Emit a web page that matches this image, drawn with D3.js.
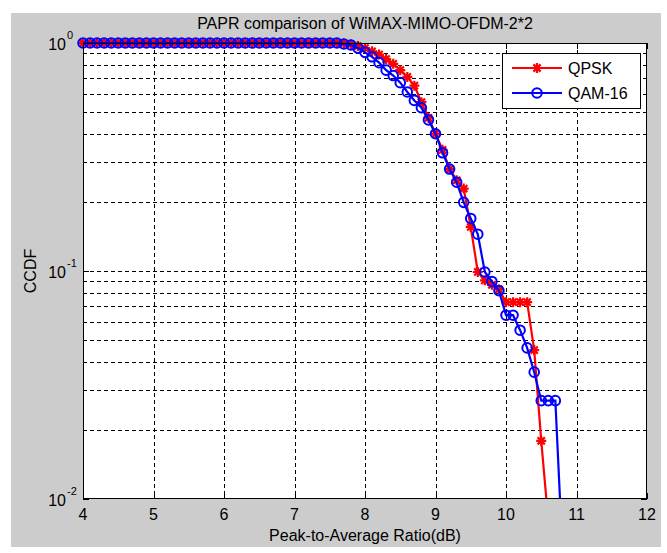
<!DOCTYPE html>
<html>
<head>
<meta charset="utf-8">
<script src="https://cdn.jsdelivr.net/npm/d3@7"></script>
<style>
  body { margin: 0; background: #fff; }
  svg { display: block; font-family: "Liberation Sans", Arial, sans-serif; }
</style>
</head>
<body>
<svg id="chart" width="667" height="553"></svg>
<script>
var titleText = "PAPR comparison of WiMAX-MIMO-OFDM-2*2";
var xLabel = "Peak-to-Average Ratio(dB)";
var yLabel = "CCDF";

var xTicks = [4, 5, 6, 7, 8, 9, 10, 11, 12];
var yExponents = [0, -1, -2];

// PAPR threshold (dB), one entry per sample
var papr = [
  4.0, 4.1, 4.2, 4.3, 4.4, 4.5, 4.6, 4.7, 4.8, 4.9,
  5.0, 5.1, 5.2, 5.3, 5.4, 5.5, 5.6, 5.7, 5.8, 5.9,
  6.0, 6.1, 6.2, 6.3, 6.4, 6.5, 6.6, 6.7, 6.8, 6.9,
  7.0, 7.1, 7.2, 7.3, 7.4, 7.5, 7.6, 7.7, 7.8, 7.9,
  8.0, 8.1, 8.2, 8.3, 8.4, 8.5, 8.6, 8.7, 8.8, 8.9,
  9.0, 9.1, 9.2, 9.3, 9.4, 9.5, 9.6, 9.7, 9.8, 9.9,
  10.0, 10.1, 10.2, 10.3, 10.4, 10.5, 10.6, 10.7, 10.8
];

var ccdfQPSK = [
  1, 1, 1, 1, 1, 1, 1, 1, 1, 1,
  1, 1, 1, 1, 1, 1, 1, 1, 1, 1,
  1, 1, 1, 1, 1, 1, 1, 1, 1, 1,
  1, 1, 1, 1, 1, 1, 1, 0.995, 0.985, 0.97,
  0.95, 0.92, 0.89, 0.85, 0.81, 0.76, 0.71, 0.65, 0.55, 0.47,
  0.40, 0.34, 0.28, 0.25, 0.23, 0.156, 0.099, 0.091, 0.087, 0.083,
  0.073, 0.073, 0.073, 0.073, 0.045, 0.018, 0.008, null, null
];

var ccdfQAM16 = [
  1, 1, 1, 1, 1, 1, 1, 1, 1, 1,
  1, 1, 1, 1, 1, 1, 1, 1, 1, 1,
  1, 1, 1, 1, 1, 1, 1, 1, 1, 1,
  1, 1, 1, 1, 1, 1, 1, 0.99, 0.98, 0.95,
  0.91, 0.87, 0.82, 0.76, 0.72, 0.67, 0.61, 0.56, 0.52, 0.46,
  0.40, 0.33, 0.28, 0.245, 0.20, 0.17, 0.145, 0.099, 0.09, 0.082,
  0.064, 0.064, 0.055, 0.046, 0.036, 0.027, 0.027, 0.027, 0.006
];

var seriesNames = ["QPSK", "QAM-16"];
var seriesColors = ["#ff0000", "#0000ff"];

(function() {
  var svg = d3.select("#chart");
  var pL = 83, pR = 647, pT = 43, pB = 499;

  var x = d3.scaleLinear().domain([4, 12]).range([pL, pR]);
  var y = d3.scaleLog().domain([0.01, 1]).range([pB, pT]);

  // figure background
  svg.append("rect")
    .attr("x", 11).attr("y", 13)
    .attr("width", 650).attr("height", 534)
    .attr("fill", "#cccccc");

  svg.append("rect")
    .attr("x", pL).attr("y", pT)
    .attr("width", pR - pL).attr("height", pB - pT)
    .attr("fill", "#fff");

  // grid
  var minorVals = [];
  [0.01, 0.1].forEach(function(d) {
    for (var k = 2; k <= 9; k++) { minorVals.push(d * k); }
  });
  var gridY = minorVals.concat([0.1]);

  svg.append("g").selectAll("line")
    .data(xTicks.slice(1, -1))
    .enter().append("line")
    .attr("x1", function(d) { return Math.round(x(d)) + 0.5; })
    .attr("x2", function(d) { return Math.round(x(d)) + 0.5; })
    .attr("y1", pT).attr("y2", pB)
    .attr("stroke", "#000").attr("stroke-width", 1)
    .attr("stroke-dasharray", "4,3");

  svg.append("g").selectAll("line")
    .data(gridY)
    .enter().append("line")
    .attr("x1", pL).attr("x2", pR)
    .attr("y1", function(d) { return Math.round(y(d)) + 0.5; })
    .attr("y2", function(d) { return Math.round(y(d)) + 0.5; })
    .attr("stroke", "#000").attr("stroke-width", 1)
    .attr("stroke-dasharray", "4,3");

  // inner ticks
  var tickG = svg.append("g").attr("stroke", "#000");
  xTicks.forEach(function(d) {
    var xx = Math.round(x(d)) + 0.5;
    tickG.append("line").attr("x1", xx).attr("x2", xx).attr("y1", pB).attr("y2", pB - 6);
    tickG.append("line").attr("x1", xx).attr("x2", xx).attr("y1", pT).attr("y2", pT + 6);
  });
  minorVals.concat([0.01, 0.1, 1]).forEach(function(d) {
    var len = (d === 0.01 || d === 0.1 || d === 1) ? 6 : 3;
    var yy = Math.round(y(d)) + 0.5;
    tickG.append("line").attr("x1", pL).attr("x2", pL + len).attr("y1", yy).attr("y2", yy);
    tickG.append("line").attr("x1", pR).attr("x2", pR - len).attr("y1", yy).attr("y2", yy);
  });

  // curves
  svg.append("defs").append("clipPath").attr("id", "plotClip")
    .append("rect")
    .attr("x", pL).attr("y", pT - 4)
    .attr("width", pR - pL).attr("height", pB - pT + 4);

  var line = d3.line()
    .defined(function(d) { return d[1] !== null; })
    .x(function(d) { return x(d[0]); })
    .y(function(d) { return y(d[1]); });

  var starPath = "M-5,0H5M0,-5V5M-3.6,-3.6L3.6,3.6M-3.6,3.6L3.6,-3.6";

  function drawSeries(values, color, marker) {
    var pts = papr.map(function(p, i) { return [p, values[i]]; });
    var g = svg.append("g");

    g.append("path")
      .datum(pts)
      .attr("clip-path", "url(#plotClip)")
      .attr("d", line)
      .attr("fill", "none")
      .attr("stroke", color)
      .attr("stroke-width", 2.2);

    var vis = pts.filter(function(d) { return d[1] !== null && d[1] >= 0.01; });

    if (marker === "star") {
      g.selectAll(".m").data(vis).enter().append("path")
        .attr("transform", function(d) { return "translate(" + x(d[0]) + "," + y(d[1]) + ")"; })
        .attr("d", starPath)
        .attr("stroke", color).attr("stroke-width", 2.2).attr("fill", "none");
    }
    else {
      g.selectAll(".m").data(vis).enter().append("circle")
        .attr("cx", function(d) { return x(d[0]); })
        .attr("cy", function(d) { return y(d[1]); })
        .attr("r", 4.8)
        .attr("stroke", color).attr("stroke-width", 2).attr("fill", "none");
    }
  }

  drawSeries(ccdfQPSK, seriesColors[0], "star");
  drawSeries(ccdfQAM16, seriesColors[1], "circle");

  // axes box
  svg.append("rect")
    .attr("x", pL + 0.5).attr("y", pT + 0.5)
    .attr("width", pR - pL - 1).attr("height", pB - pT - 1)
    .attr("fill", "none").attr("stroke", "#000");

  // tick labels
  svg.append("g").selectAll("text")
    .data(xTicks)
    .enter().append("text")
    .attr("x", function(d) { return x(d); })
    .attr("y", pB + 21)
    .attr("text-anchor", "middle")
    .attr("font-size", 16)
    .text(function(d) { return d; });

  yExponents.forEach(function(e) {
    var yy = y(Math.pow(10, e));
    svg.append("text")
      .attr("x", 66).attr("y", yy + 7)
      .attr("text-anchor", "end")
      .attr("font-size", 16)
      .text("10");
    svg.append("text")
      .attr("x", 67).attr("y", yy - 4)
      .attr("font-size", 11)
      .text(e);
  });

  // titles
  svg.append("text")
    .attr("x", (pL + pR) / 2).attr("y", 29)
    .attr("text-anchor", "middle")
    .attr("font-size", 16)
    .text(titleText);

  svg.append("text")
    .attr("x", (pL + pR) / 2).attr("y", 541)
    .attr("text-anchor", "middle")
    .attr("font-size", 16)
    .text(xLabel);

  svg.append("text")
    .attr("transform", "translate(36," + ((pT + pB) / 2) + ") rotate(-90)")
    .attr("text-anchor", "middle")
    .attr("font-size", 16)
    .text(yLabel);

  // legend
  var lg = svg.append("g").attr("transform", "translate(502,53)");
  lg.append("rect")
    .attr("x", 0.5).attr("y", 0.5)
    .attr("width", 138).attr("height", 55)
    .attr("fill", "#fff").attr("stroke", "#000");

  seriesNames.forEach(function(name, i) {
    var ly = 15 + i * 25;
    lg.append("line")
      .attr("x1", 10).attr("x2", 60).attr("y1", ly).attr("y2", ly)
      .attr("stroke", seriesColors[i]).attr("stroke-width", 2.2);
    if (i === 0) {
      lg.append("path")
        .attr("transform", "translate(35," + ly + ")")
        .attr("d", starPath)
        .attr("stroke", seriesColors[i]).attr("stroke-width", 2.2).attr("fill", "none");
    }
    else {
      lg.append("circle")
        .attr("cx", 35).attr("cy", ly).attr("r", 4.8)
        .attr("stroke", seriesColors[i]).attr("stroke-width", 2).attr("fill", "none");
    }
    lg.append("text")
      .attr("x", 66).attr("y", ly + 6)
      .attr("font-size", 16)
      .text(name);
  });
}());
</script>
</body>
</html>
